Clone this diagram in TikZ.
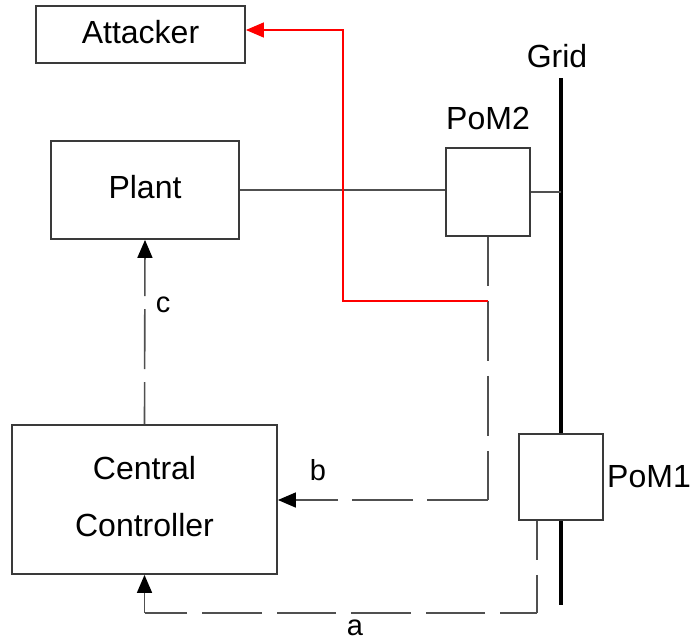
\documentclass[tikz,border=0pt]{standalone}
\usepackage{fontspec}
\setmainfont{Liberation Sans}
\usetikzlibrary{arrows.meta}
\definecolor{boxgray}{HTML}{3A3A3A}
\definecolor{linegray}{HTML}{505050}
\begin{document}
\begin{tikzpicture}[x=1pt,y=-1pt,
  box/.style={draw=boxgray, line width=1.8pt, fill=white, inner sep=0pt,
    font=\fontsize{32}{57}\selectfont, align=center, text depth=6pt},
  lbl/.style={inner sep=0pt, font=\fontsize{32}{38}\selectfont},
  smalllbl/.style={inner sep=0pt, font=\fontsize{29}{34}\selectfont},
  conn/.style={draw=linegray, line width=1.6pt},
  tip/.style={-{Triangle[length=18pt,width=15pt,color=black]}},
  redline/.style={draw=red, line width=1.5pt}
]
\useasboundingbox (0,0) rectangle (692,642);

% grid bus
\coordinate (gridtop) at (561,78);
\coordinate (gridbot) at (561,605);
\draw[line width=4pt] (gridtop) -- (gridbot);

% boxes
\node[box, minimum width=209pt, minimum height=57pt] (attacker) at (140.5,34.5) {Attacker};
\node[box, minimum width=188pt, minimum height=98pt] (plant) at (145,190) {Plant};
\node[box, minimum width=84pt, minimum height=88pt] (pom2) at (488,192) {};
\node[box, minimum width=84pt, minimum height=86pt] (pom1) at (561,477) {};
\node[box, minimum width=265pt, minimum height=149pt] (ctrl) at (144.5,499.5) {Central\\Controller};

% labels
\node[lbl] (gridlbl) at (557,56) {Grid};
\node[lbl] (pom2lbl) at (488,118) {PoM2};
\node[lbl] (pom1lbl) at (649,477) {PoM1};
\node[smalllbl] (alb) at (355,628) {a};
\node[smalllbl] (blb) at (318,470) {b};
\node[smalllbl] (clb) at (163,305) {c};

% power lines
\draw[conn] (plant.east) -- (plant.east -| pom2.west);
\draw[conn] (pom2.east) -- (pom2.east -| gridtop);

% b: PoM2 -> controller
\coordinate (bcorner) at (488,500);
\draw[conn, dash pattern=on 60pt off 15pt, dash phase=11pt] (pom2.south) -- (bcorner);
\draw[conn, dash pattern=on 61pt off 14pt, tip] (bcorner) -- (bcorner -| ctrl.east);

% a: PoM1 -> controller
\coordinate (atop) at ([xshift=-24pt]pom1.south);
\coordinate (acorner) at (537,613);
\coordinate (aleft) at (144.5,613);
\draw[conn, dash pattern=on 39pt off 15pt] (atop) -- (acorner);
\draw[conn, dash pattern=on 59.5pt off 15pt, dash phase=22.5pt] (acorner) -- (aleft);
\draw[conn, tip] (aleft) -- (ctrl.south);

% c: controller -> plant
\draw[conn, dash pattern=on 60pt off 13pt, dash phase=18pt, tip] (ctrl.north) -- (plant.south);

% attacker path
\coordinate (redstart) at (488,301);
\coordinate (redbend) at (343,301);
\draw[redline, -{Triangle[length=18pt,width=15pt]}] (redstart) -- (redbend) |- ([yshift=4.5pt]attacker.east);
\end{tikzpicture}
\end{document}
